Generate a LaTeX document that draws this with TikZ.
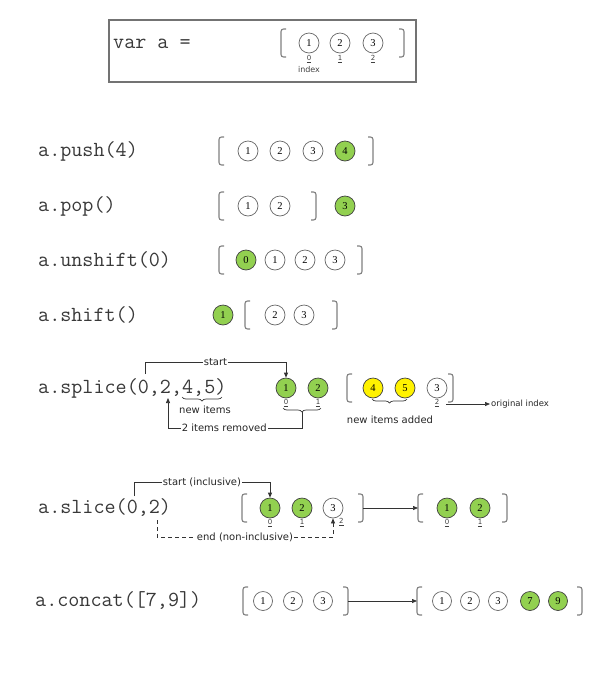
\documentclass[tikz,border=0pt]{standalone}
\usepackage{fontspec}
\setmainfont{Liberation Serif}
\newfontfamily\notefont{DejaVu Sans}
\usetikzlibrary{positioning,arrows.meta,decorations.pathreplacing}
\definecolor{itemgreen}{HTML}{92D050}
\definecolor{codegray}{HTML}{383838}
\tikzset{
  lbrack/.pic={\draw[black!50,line width=1.1pt,rounded corners=2.5pt] (5,-14) -- (0,-14) -- (0,14) -- (5,14);},
  rbrack/.pic={\draw[black!50,line width=1.1pt,rounded corners=2.5pt] (-5,-14) -- (0,-14) -- (0,14) -- (-5,14);}
}

\begin{document}
\begin{tikzpicture}[x=1pt,y=-1pt,>={Triangle[length=5pt,width=4pt]}]
\tikzstyle{item}=[circle,draw=black!60,line width=0.7pt,minimum size=20pt,inner sep=0pt,font=\fontsize{10.5}{10.5}\selectfont]
\tikzstyle{greenitem}=[item,fill=itemgreen,draw=black!75]
\tikzstyle{yellowitem}=[item,fill=yellow,draw=black!75]
\tikzstyle{code}=[anchor=west,inner sep=0pt,text=codegray,font=\ttfamily\fontsize{21.5}{21.5}\selectfont]
\tikzstyle{idx}=[inner sep=0pt,text=black!75,font=\notefont\fontsize{7}{7}\selectfont]
\tikzstyle{note}=[inner sep=1pt,fill=white,text=black!85,font=\notefont\fontsize{10}{10}\selectfont]
\tikzstyle{wire}=[line width=0.7pt,draw=black!80]
\tikzstyle{curly}=[wire,decorate,decoration={brace,mirror,amplitude=4pt}]
\useasboundingbox (0,0) rectangle (614,681);

% var a = [1,2,3]
\node[draw=black!55,line width=1.2pt,minimum width=307pt,minimum height=62pt,inner sep=0pt] (decl) at (262.5,51) {};
\node[code] (var) at (113,44) {var a =};
\pic at (281,43) {lbrack};
\foreach \n/\x/\i in {1/309/0,2/340/1,3/373/2} {
  \node[item] (a\n) at (\x,43) {\n};
  \node[idx,below=2pt of a\n] (a\n i) {\underline{\i}};
}
\pic at (404,43) {rbrack};
\node[idx,font=\notefont\fontsize{8}{8}\selectfont,below=3pt of a1i] (index) {index};

% push
\node[code] (push) at (38,151) {a.push(4)};
\pic at (219,151) {lbrack};
\foreach \n/\x in {1/248,2/280,3/313}
  \node[item] (pu\n) at (\x,151) {\n};
\node[greenitem] (pu4) at (345,151) {4};
\pic at (373,151) {rbrack};

% pop
\node[code] (pop) at (38,206) {a.pop()};
\pic at (219,206) {lbrack};
\foreach \n/\x in {1/248,2/280}
  \node[item] (po\n) at (\x,206) {\n};
\pic at (316,206) {rbrack};
\node[greenitem] (po3) at (345,206) {3};

% unshift
\node[code] (unshift) at (38,260) {a.unshift(0)};
\pic at (219,260) {lbrack};
\node[greenitem] (un0) at (246,260) {0};
\foreach \n/\x in {1/275,2/305,3/335}
  \node[item] (un\n) at (\x,260) {\n};
\pic at (362,260) {rbrack};

% shift
\node[code] (shift) at (38,315) {a.shift()};
\node[greenitem] (sh1) at (223,315) {1};
\pic at (245,315) {lbrack};
\foreach \n/\x in {2/275,3/304}
  \node[item] (sh\n) at (\x,315) {\n};
\pic at (337,315) {rbrack};

% splice
\node[code] (splice) at (38,388) {a.splice(0,2,4,5)};
\node[greenitem] (sp1) at (286,388) {1};
\node[greenitem] (sp2) at (318,388) {2};
\node[idx,below=1pt of sp1] (sp1i) {\underline{0}};
\node[idx,below=1pt of sp2] (sp2i) {\underline{1}};
\pic at (347,388) {lbrack};
\node[yellowitem] (sp4) at (373,388) {4};
\node[yellowitem] (sp5) at (405,388) {5};
\node[item] (sp3) at (437,388) {3};
\node[idx,below=1pt of sp3] (sp3i) {\underline{2}};
\pic at (453,388) {rbrack};
\node[note,fill=none,anchor=west,font=\notefont\fontsize{8.5}{8.5}\selectfont] (orig) at (490,404) {original index};
\draw[wire,->] ([xshift=7pt]orig.west -| sp3i.east) -- (orig.west);
\draw[curly] (372,399) -- (407,399);
\node[note,fill=none] (added) at (390,420) {new items added};
\draw[curly] (182,397) -- (222,397);
\node[note,fill=none] (newitems) at (205,410) {new items};
\coordinate (spzero) at (145,374);
\draw[wire,->] (spzero) -- ++(0,-12) -| node[note,pos=0.25] {start} (sp1.north);
\draw[curly] (283,408) -- (321,408);
\coordinate (rmtip) at (302,412);
\coordinate (sptwo) at (168,398);
\draw[wire,->] (rmtip) -- ++(0,16) -| node[note,pos=0.29] {2 items removed} (sptwo);

% slice
\node[code] (slice) at (38,508) {a.slice(0,2)};
\pic at (242,508) {lbrack};
\node[greenitem] (sl1) at (270,508) {1};
\node[greenitem] (sl2) at (302,508) {2};
\node[item] (sl3) at (333,508) {3};
\node[idx,below=1pt of sl1] (sl1i) {\underline{0}};
\node[idx,below=1pt of sl2] (sl2i) {\underline{1}};
\node[idx,anchor=north west] (sl3i) at ([xshift=6pt]sl3.south) {\underline{2}};
\coordinate (slR) at (363,508);
\pic at (slR) {rbrack};
\coordinate (reL) at (418,508);
\pic at (reL) {lbrack};
\node[greenitem] (re1) at (447,508) {1};
\node[greenitem] (re2) at (480,508) {2};
\node[idx,below=1pt of re1] (re1i) {\underline{0}};
\node[idx,below=1pt of re2] (re2i) {\underline{1}};
\pic at (507,508) {rbrack};
\draw[wire,->] (slR) -- (reL);
\coordinate (slzero) at (134,496);
\draw[wire,->] (slzero) -- ++(0,-14) -| node[note,pos=0.25] {start (inclusive)} (sl1.north);
\coordinate (sltwo) at (157,520);
\draw[wire,dash pattern=on 4pt off 3pt,->] (sltwo) -- ++(0,17) -| node[note,pos=0.25] {end (non-inclusive)} (sl3.south);

% concat
\node[code] (concat) at (35,601) {a.concat([7,9])};
\pic at (243,601) {lbrack};
\foreach \n/\x in {1/263,2/293,3/323}
  \node[item,minimum size=19pt] (ca\n) at (\x,601) {\n};
\coordinate (caR) at (348,601);
\pic at (caR) {rbrack};
\coordinate (cbL) at (417,601);
\pic at (cbL) {lbrack};
\foreach \n/\x in {1/442,2/470,3/498}
  \node[item,minimum size=19pt] (cb\n) at (\x,601) {\n};
\node[greenitem,minimum size=19pt] (cb7) at (530,601) {7};
\node[greenitem,minimum size=19pt] (cb9) at (558,601) {9};
\pic at (582,601) {rbrack};
\draw[wire,->] (caR) -- (cbL);
\end{tikzpicture}
\end{document}
